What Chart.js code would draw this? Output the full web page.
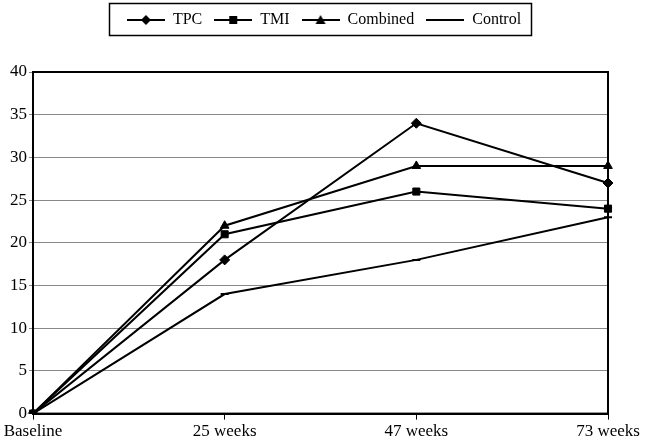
<!DOCTYPE html>
<html>
<head>
<meta charset="utf-8">
<script src="https://cdn.jsdelivr.net/npm/chart.js@4/dist/chart.umd.min.js"></script>
<style>
  html, body { margin: 0; padding: 0; background: #fff; }
  #wrap { width: 646px; height: 447px; }
</style>
</head>
<body>
<div id="wrap"><canvas id="myChart"></canvas></div>
<script>
const labels = ['Baseline', '25 weeks', '47 weeks', '73 weeks']
const tpc = [0, 18, 34, 27]
const tmi = [0, 21, 26, 24]
const combined = [0, 22, 29, 29]
const control = [0, 14, 18, 23]

// legend sample: short line with the marker in the middle
function legendIcon(style) {
  const c = document.createElement('canvas')
  c.width = 38
  c.height = 12
  const g = c.getContext('2d')
  g.strokeStyle = '#000'
  g.fillStyle = '#000'
  g.lineWidth = 2
  g.beginPath()
  g.moveTo(0, 6)
  g.lineTo(38, 6)
  g.stroke()
  g.beginPath()
  if (style === 'rectRot') {
    g.moveTo(19, 1); g.lineTo(24, 6); g.lineTo(19, 11); g.lineTo(14, 6)
  } else if (style === 'rect') {
    g.rect(15, 2, 8, 8)
  } else if (style === 'triangle') {
    g.moveTo(19, 1); g.lineTo(24, 10); g.lineTo(14, 10)
  } else {
    g.rect(15, 5, 8, 2)
  }
  g.fill()
  return c
}

// push the plot down below the legend, and nudge the legend right
const legendGap = {
  id: 'legendGap',
  beforeInit(chart) {
    const fit = chart.legend.fit
    chart.legend.fit = function () {
      fit.bind(chart.legend)()
      this.height += 34
    }
  },
  afterLayout(chart) {
    chart.legend.left += 20
    chart.legend.right += 20
  }
}

const frame = {
  id: 'frame',
  afterDraw(chart) {
    const { ctx, chartArea: a, legend } = chart
    const boxes = legend.legendHitBoxes
    const first = boxes[0]
    const last = boxes[boxes.length - 1]
    ctx.save()
    ctx.strokeStyle = '#000'
    ctx.lineWidth = 2
    ctx.strokeRect(a.left, a.top, a.right - a.left, a.bottom - a.top)
    ctx.lineWidth = 1.5
    const l = Math.round(first.left) - 17.5
    const r = Math.round(last.left + last.width) + 10.5
    ctx.strokeRect(l, 3.5, r - l, 32)
    ctx.restore()
  }
}

function series(label, data, style) {
  return {
    label,
    data,
    borderColor: '#000',
    backgroundColor: '#000',
    borderWidth: 2,
    lineTension: 0,
    pointStyle: style,
    pointRadius: style === 'line' ? 4 : 5,
    pointBorderWidth: style === 'line' ? 2 : 1,
    legendIcon: legendIcon(style)
  }
}

const ctx = document.getElementById('myChart')
const myChart = new Chart(ctx, {
  type: 'line',
  data: {
    labels,
    datasets: [
      series('TPC', tpc, 'rectRot'),
      series('TMI', tmi, 'rect'),
      series('Combined', combined, 'triangle'),
      series('Control', control, 'line')
    ]
  },
  plugins: [legendGap, frame],
  options: {
    responsive: true,
    maintainAspectRatio: false,
    animation: false,
    layout: { padding: { top: 0, right: 38, left: 0, bottom: 3 } },
    plugins: {
      tooltip: { enabled: false },
      legend: {
        position: 'top',
        labels: {
          color: '#000',
          font: { family: 'Liberation Serif', size: 16 },
          usePointStyle: true,
          pointStyleWidth: 38,
          padding: 12,
          boxHeight: 12,
          generateLabels(chart) {
            return chart.data.datasets.map((d, i) => ({
              text: d.label,
              pointStyle: d.legendIcon,
              fillStyle: '#000',
              strokeStyle: '#000',
              lineWidth: 0,
              datasetIndex: i,
              hidden: false
            }))
          }
        }
      }
    },
    scales: {
      x: {
        offset: false,
        grid: { drawOnChartArea: false, color: '#000', tickLength: 6 },
        border: { color: '#000', width: 2 },
        ticks: {
          color: '#000',
          font: { family: 'Liberation Serif', size: 17 },
          maxRotation: 0,
          padding: 2
        }
      },
      y: {
        min: 0,
        max: 40,
        grid: { color: '#888', lineWidth: 1, tickLength: 4 },
        border: { color: '#000', width: 2 },
        ticks: {
          stepSize: 5,
          color: '#000',
          font: { family: 'Liberation Serif', size: 17 },
          padding: 2
        },
        afterFit(scale) { scale.width = 33 }
      }
    }
  }
})
</script>
</body>
</html>
